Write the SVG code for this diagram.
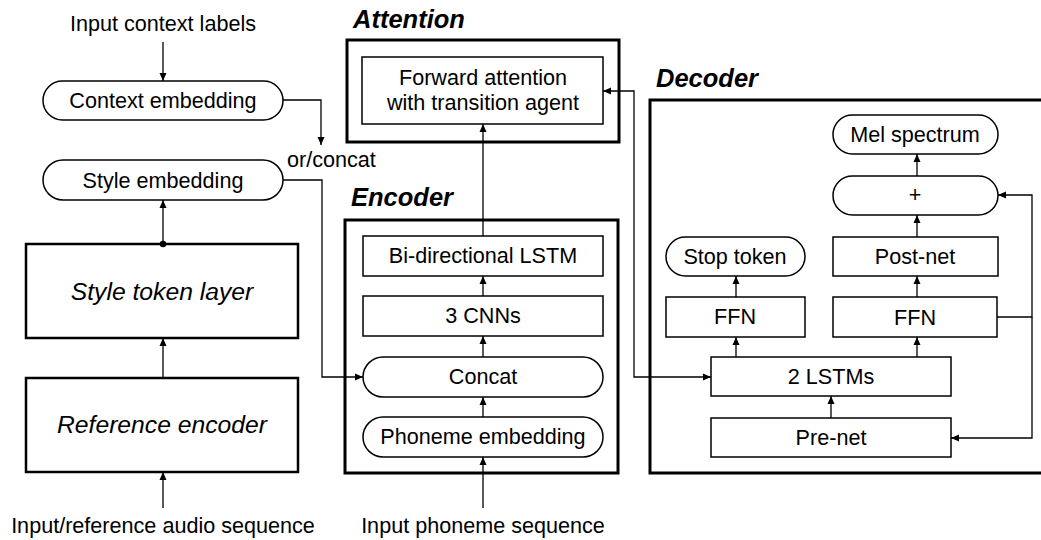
<svg xmlns="http://www.w3.org/2000/svg" width="1041" height="540" viewBox="0 0 1041 540">
<defs>
<marker id="arr" markerUnits="userSpaceOnUse" markerWidth="9" markerHeight="8" refX="8" refY="4" orient="auto-start-reverse"><path d="M0,0.5 L8,4 L0,7.5 z" fill="#000"/></marker>
<marker id="dot" markerUnits="userSpaceOnUse" markerWidth="8" markerHeight="8" refX="4" refY="4"><circle cx="4" cy="4" r="3.2" fill="#000"/></marker>
<style>
.box{fill:#fff;stroke:#000;stroke-width:1.5}
.thick{fill:none;stroke:#000;stroke-width:3}
.mid{fill:#fff;stroke:#000;stroke-width:2.5}
.t{font-family:"Liberation Sans",Arial,sans-serif;font-size:21.6px;text-anchor:middle;fill:#000}
.it{font-family:"Liberation Sans",Arial,sans-serif;font-size:24.7px;font-style:italic;text-anchor:middle;fill:#000}
.lbl{font-family:"Liberation Sans",Arial,sans-serif;font-size:25.5px;font-style:italic;font-weight:bold;fill:#000}
.c{fill:none;stroke:#000;stroke-width:1.3}
</style>
</defs>
<rect width="1041" height="540" fill="#fff"/>

<g id="attention-group">
<rect class="thick" x="347" y="40" width="272" height="102"/>
<text class="lbl" x="353" y="28">Attention</text>
</g>
<g id="encoder-group">
<rect class="thick" x="345" y="220" width="273" height="253"/>
<text class="lbl" x="351" y="206">Encoder</text>
</g>
<g id="decoder-group">
<rect class="thick" x="650" y="100" width="400" height="373"/>
<text class="lbl" x="656" y="87">Decoder</text>
</g>

<g id="input-context"><text class="t" x="163" y="31">Input context labels</text></g>
<g id="context-embedding"><rect class="box" x="43" y="81" width="240" height="39" rx="19.5"/><text class="t" x="163" y="108">Context embedding</text></g>
<g id="orconcat"><text class="t" x="287" y="167" style="text-anchor:start">or/concat</text></g>
<g id="style-embedding"><rect class="box" x="43" y="160" width="240" height="40" rx="20"/><text class="t" x="163" y="188">Style embedding</text></g>
<g id="style-token"><rect class="mid" x="26" y="244" width="272" height="94"/><text class="it" x="162" y="300">Style token layer</text></g>
<g id="ref-encoder"><rect class="mid" x="26" y="378" width="272" height="94"/><text class="it" x="162" y="433">Reference encoder</text></g>
<g id="input-audio"><text class="t" x="163" y="533">Input/reference audio sequence</text></g>

<g id="forward-attention"><rect class="box" x="362" y="57" width="241" height="67"/><text class="t" x="483" y="85">Forward attention</text><text class="t" x="483" y="109.5">with transition agent</text></g>

<g id="bilstm"><rect class="box" x="363" y="236" width="240" height="40"/><text class="t" x="483" y="263">Bi-directional LSTM</text></g>
<g id="cnns"><rect class="box" x="363" y="296" width="240" height="40"/><text class="t" x="483" y="323">3 CNNs</text></g>
<g id="concat"><rect class="box" x="363" y="357" width="240" height="40" rx="20"/><text class="t" x="483" y="384">Concat</text></g>
<g id="phoneme-embedding"><rect class="box" x="363" y="417" width="240" height="40" rx="20"/><text class="t" x="483" y="444">Phoneme embedding</text></g>
<g id="input-phoneme"><text class="t" x="483" y="533">Input phoneme sequence</text></g>

<g id="mel"><rect class="box" x="833" y="115" width="165" height="39" rx="19.5"/><text class="t" x="915" y="142">Mel spectrum</text></g>
<g id="plus"><rect class="box" x="833" y="176" width="165" height="39" rx="19.5"/><text class="t" x="915" y="202">+</text></g>
<g id="postnet"><rect class="box" x="833" y="237" width="165" height="39"/><text class="t" x="915" y="264">Post-net</text></g>
<g id="ffn-right"><rect class="box" x="833" y="297" width="164" height="40"/><text class="t" x="915" y="325">FFN</text></g>
<g id="stop-token"><rect class="box" x="666" y="237" width="139" height="39" rx="19.5"/><text class="t" x="735" y="264">Stop token</text></g>
<g id="ffn-left"><rect class="box" x="666" y="297" width="139" height="40"/><text class="t" x="735" y="324">FFN</text></g>
<g id="lstms"><rect class="box" x="711" y="357" width="240" height="39"/><text class="t" x="831" y="384">2 LSTMs</text></g>
<g id="prenet"><rect class="box" x="711" y="418" width="240" height="39"/><text class="t" x="831" y="445">Pre-net</text></g>

<g id="connectors">
<path class="c" d="M163,42 V81" marker-end="url(#arr)"/>
<path class="c" d="M283,100 H321 V145" marker-end="url(#arr)"/>
<path class="c" d="M283,180 H322 V377 H363" marker-end="url(#arr)"/>
<path class="c" d="M163,244 V200" marker-start="url(#dot)" marker-end="url(#arr)"/>
<path class="c" d="M163,378 V338" marker-end="url(#arr)"/>
<path class="c" d="M163,508 V472" marker-end="url(#arr)"/>
<path class="c" d="M483,508 V457" marker-end="url(#arr)"/>
<path class="c" d="M483,417 V397" marker-end="url(#arr)"/>
<path class="c" d="M483,357 V336" marker-end="url(#arr)"/>
<path class="c" d="M483,296 V276" marker-end="url(#arr)"/>
<path class="c" d="M483,236 V124" marker-end="url(#arr)"/>
<path class="c" d="M711,377 H634 V91 H603" marker-start="url(#arr)" marker-end="url(#arr)"/>
<path class="c" d="M831,418 V396" marker-end="url(#arr)"/>
<path class="c" d="M736,357 V337" marker-end="url(#arr)"/>
<path class="c" d="M917,357 V337" marker-end="url(#arr)"/>
<path class="c" d="M736,297 V276" marker-end="url(#arr)"/>
<path class="c" d="M917,297 V276" marker-end="url(#arr)"/>
<path class="c" d="M917,237 V215" marker-end="url(#arr)"/>
<path class="c" d="M917,176 V154" marker-end="url(#arr)"/>
<path class="c" d="M997,317 H1032 V195 H998" marker-end="url(#arr)"/>
<path class="c" d="M1032,317 V438 H951" marker-end="url(#arr)"/>
</g>
</svg>
